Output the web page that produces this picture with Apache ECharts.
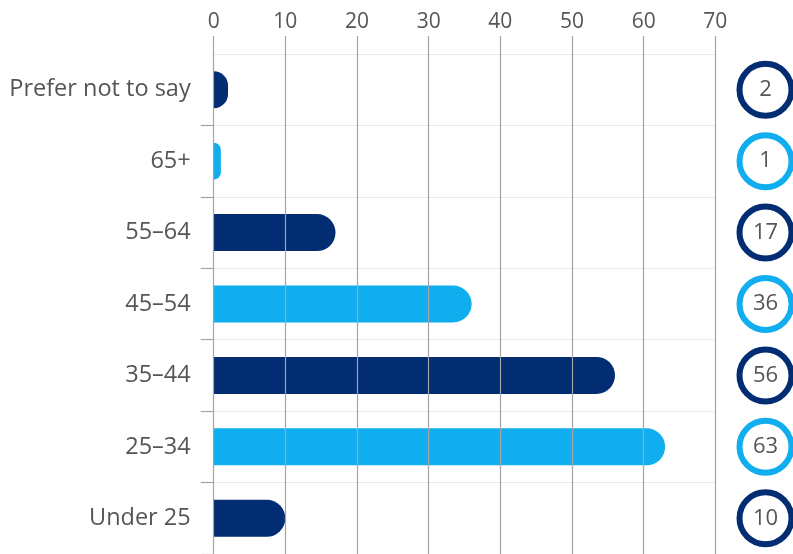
<!DOCTYPE html>
<html>
<head>
<meta charset="utf-8">
<style>
  html, body { margin: 0; padding: 0; background: #fff; }
  #chart { width: 793px; height: 554px; }
</style>
<script src="https://cdn.jsdelivr.net/npm/echarts@6/dist/echarts.min.js"></script>
</head>
<body>
<div id="chart"></div>
<script>
// Age groups, top to bottom
const categories = ['Prefer not to say', '65+', '55–64', '45–54', '35–44', '25–34', 'Under 25'];
// Respondents per age group
const values = [2, 1, 17, 36, 56, 63, 10];
// Value axis ticks
const axisMax = 70;
const axisStep = 10;

const DARK = '#022d72';
const LIGHT = '#11aeef';
const TEXT = '#555555';
const FONT = '"Open Sans", sans-serif';

const colorAt = i => (i % 2 === 0 ? DARK : LIGHT);

const chart = echarts.init(document.getElementById('chart'), null, { renderer: 'canvas' });

chart.setOption({
  animation: false,
  backgroundColor: '#fff',
  grid: [
    { left: 213.7, right: 77.7, top: 54, bottom: -1, containLabel: false },
    { left: 738, width: 58, top: 54, bottom: -1, containLabel: false }
  ],
  xAxis: [
    {
      gridIndex: 0,
      type: 'value',
      position: 'top',
      min: 0,
      max: axisMax,
      interval: axisStep,
      z: 5,
      axisLine: { show: false },
      axisTick: { show: true, inside: false, length: 18, lineStyle: { color: '#a4a4a4', width: 1.2 } },
      axisLabel: { color: TEXT, fontSize: 21, fontFamily: FONT, margin: 21 },
      splitLine: { show: true, lineStyle: { color: '#a4a4a4', width: 1.2 } }
    },
    {
      gridIndex: 1,
      type: 'category',
      data: ['n'],
      show: false
    }
  ],
  yAxis: [
    {
      gridIndex: 0,
      type: 'category',
      inverse: true,
      data: categories,
      axisLine: { show: false },
      axisTick: {
        show: true,
        length: 13,
        interval: (idx) => idx !== 0,
        lineStyle: { color: '#a4a4a4', width: 1.2 }
      },
      axisLabel: { color: TEXT, fontSize: 23.5, fontFamily: FONT, margin: 23 },
      splitLine: { show: true, lineStyle: { color: '#e9e9e9', width: 1.2 } }
    },
    {
      gridIndex: 1,
      type: 'category',
      inverse: true,
      data: categories,
      show: false
    }
  ],
  series: [
    {
      type: 'bar',
      xAxisIndex: 0,
      yAxisIndex: 0,
      barWidth: 37,
      z: 2,
      data: values.map((v, i) => ({
        value: v,
        itemStyle: { color: colorAt(i), borderRadius: [0, 18.5, 18.5, 0] }
      }))
    },
    {
      type: 'scatter',
      xAxisIndex: 1,
      yAxisIndex: 1,
      symbol: 'circle',
      symbolSize: 52,
      data: categories.map((c, i) => ({
        value: ['n', c, values[i]],
        itemStyle: { color: '#fff', borderColor: colorAt(i), borderWidth: 6, opacity: 1 }
      })),
      label: {
        show: true,
        position: 'inside',
        formatter: p => String(p.value[2]),
        color: TEXT,
        fontSize: 22,
        fontFamily: FONT
      }
    }
  ]
});
</script>
</body>
</html>
